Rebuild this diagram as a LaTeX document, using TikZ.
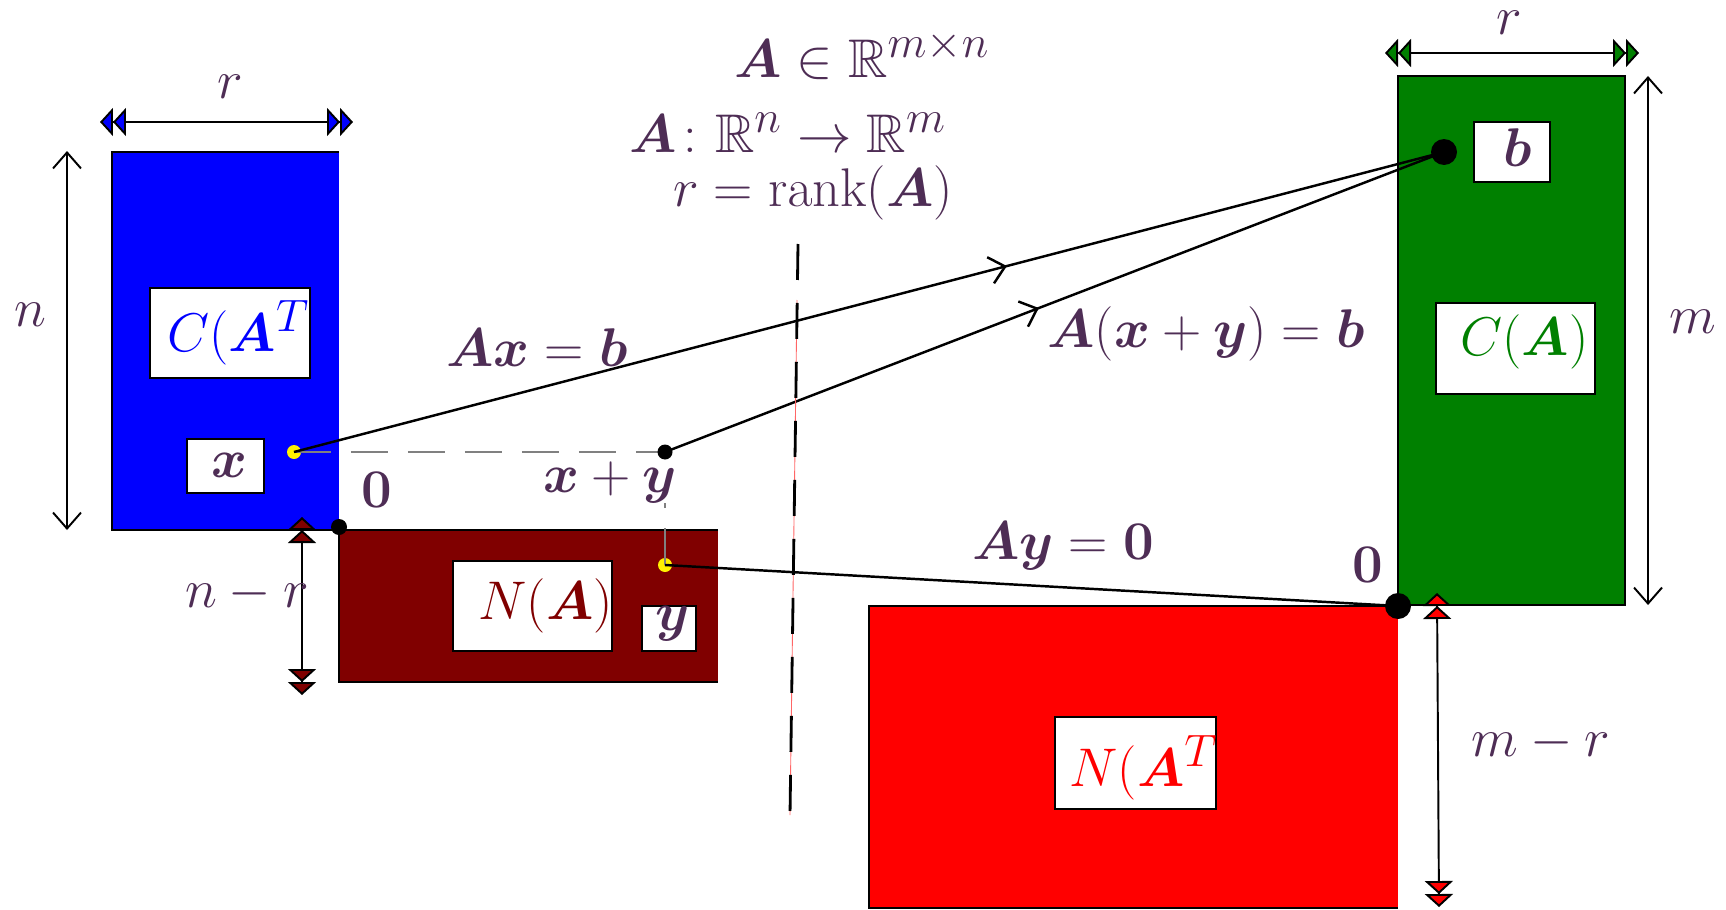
\documentclass[tikz,border=0pt]{standalone}
\usepackage{amsmath,amssymb,bm}
\usetikzlibrary{arrows.meta,decorations.markings}
\definecolor{textc}{RGB}{78,45,85}
\definecolor{maroonc}{RGB}{128,0,0}
\definecolor{greenc}{RGB}{0,128,0}
\definecolor{greyc}{RGB}{128,128,128}
\tikzset{
  lbl/.style={font=\Huge, scale=1.246, text=textc, inner sep=0pt},
  inbox/.style={draw=black, fill=white, line width=1.4pt, inner sep=0pt},
  border/.style={line width=1.4pt, line join=miter},
  conn/.style={line width=1.4pt},
  dimv/.style={line width=1.1pt, {Straight Barb[length=0.32cm,width=0.56cm]}-{Straight Barb[length=0.32cm,width=0.56cm]}},
  dimd/.style={line width=1.1pt, {Triangle[length=0.26cm,width=0.56cm,fill=#1] Triangle[length=0.26cm,width=0.56cm,fill=#1]}-{Triangle[length=0.26cm,width=0.56cm,fill=#1] Triangle[length=0.26cm,width=0.56cm,fill=#1]}},
  midarrow/.style={postaction={decorate}, decoration={markings, mark=at position #1 with {\arrow{Straight Barb[length=0.3cm,width=0.54cm]}}}},
  ydot/.style={circle, fill=yellow, inner sep=0pt, minimum size=0.28cm},
  bdot/.style={circle, fill=black, inner sep=0pt, minimum size=#1},
  greydash/.style={draw=greyc, line width=1.4pt, dash pattern=on 0.74cm off 0.4cm},
  middash/.style={line width=1.6pt, dash pattern=on 0.72cm off 0.46cm},
}
\begin{document}
\begin{tikzpicture}[x=0.02cm,y=-0.02cm]
\useasboundingbox (0,0) rectangle (1726,909);

% big rectangles
\fill[blue] (112,152) rectangle (339,530);
\draw[border] (339,152) -- (112,152) -- (112,530) -- (339,530);
\fill[maroonc] (339,530) rectangle (718,682);
\draw[border] (718,530) -- (339,530) -- (339,682) -- (718,682);
\fill[red] (869,606) rectangle (1398,908);
\draw[border] (1398,606) -- (869,606) -- (869,908) -- (1398,908);
\draw[border, fill=greenc] (1398,76) rectangle (1625,605);

% inner boxes
\node[inbox, minimum width=3.2cm, minimum height=1.8cm] (bCAT) at (230,333) {};
\node[lbl, anchor=west, text=blue] (tCAT) at (167,333) {$C(\bm{A}^T)$};
\node[inbox, minimum width=1.54cm, minimum height=1.08cm] (bx) at (225.5,466) {};
\node[lbl] (tx) at (229,465) {$\bm{x}$};
\node[inbox, minimum width=3.18cm, minimum height=1.8cm] (bNA) at (532.5,606) {};
\node[lbl, anchor=west, text=maroonc] (tNA) at (478,606) {$N(\bm{A})$};
\node[inbox, minimum width=1.08cm, minimum height=0.9cm] (by) at (669,628.5) {};
\node[lbl] (ty) at (673,624) {$\bm{y}$};
\node[inbox, minimum width=1.52cm, minimum height=1.2cm] (bb) at (1512,152) {};
\node[lbl] (tb) at (1518,148) {$\bm{b}$};
\node[inbox, minimum width=3.18cm, minimum height=1.82cm] (bCA) at (1515.5,348.5) {};
\node[lbl, anchor=west, text=greenc] (tCA) at (1460,342) {$C(\bm{A})$};
\node[inbox, minimum width=3.22cm, minimum height=1.84cm] (bNAT) at (1135.5,763) {};
\node[lbl, anchor=west, text=red] (tNAT) at (1069,768) {$N(\bm{A}^T)$};

% dimension arrows
\coordinate (r1a) at (100,122); \coordinate (r1b) at (353,122);
\draw[dimd=blue] (r1a) -- (r1b);
\node[lbl] (lr1) at (230,87) {$r$};
\coordinate (na) at (67,151); \coordinate (nb) at (67,530);
\draw[dimv] (na) -- (nb);
\node[lbl] (ln) at (30,315) {$n$};
\coordinate (nra) at (302,517); \coordinate (nrb) at (302,695);
\draw[dimd=maroonc] (nra) -- (nrb);
\node[lbl] (lnr) at (247,594) {$n-r$};
\coordinate (r2a) at (1385,53); \coordinate (r2b) at (1639,53);
\draw[dimd=greenc] (r2a) -- (r2b);
\node[lbl] (lr2) at (1509,23) {$r$};
\coordinate (ma) at (1648,76); \coordinate (mb) at (1648,605);
\draw[dimv] (ma) -- (mb);
\node[lbl] (lm) at (1693,322) {$m$};
\coordinate (mra) at (1437,593); \coordinate (mrb) at (1439,907);
\draw[dimd=red] (mra) -- (mrb);
\node[lbl] (lmr) at (1541,743) {$m-r$};

% points
\node[ydot] (xdot) at (294,452) {};
\node[ydot] (ydotn) at (665,565) {};
\coordinate (xy) at (665,452);
\coordinate (b) at (1444,152);
\coordinate (O) at (1398,606);
\coordinate (c0) at (339,527);

% grey dashed guides
\draw[greydash] (xdot.center) -- (xy);
\draw[greydash] (ydotn.center) -- (xy);

% connectors
\draw[conn, midarrow=0.62] (xdot.center) -- (b);
\draw[conn, midarrow=0.48] (xy) -- (b);
\draw[conn] (ydotn.center) -- (O);

% middle dashed line
\coordinate (dtop) at (798,244);
\coordinate (dbot) at (790,815);
\draw[red!60, line width=0.5pt] (797,300) -- (dbot);
\draw[middash] (dtop) -- (dbot);

% black dots
\node[bdot=0.3cm] (xyd) at (xy) {};
\node[bdot=0.52cm] (bd) at (b) {};
\node[bdot=0.52cm] (Od) at (O) {};
\node[bdot=0.32cm] (c0d) at (c0) {};

% labels
\node[lbl] (t1) at (862,55) {$\bm{A}\in\mathbb{R}^{m\times n}$};
\node[lbl] (t2) at (788,133) {$\bm{A}\colon\mathbb{R}^n\to\mathbb{R}^m$};
\node[lbl] (t3) at (813,193) {$r=\operatorname{rank}(\bm{A})$};
\node[lbl] (lAx) at (537,348) {$\bm{A}\bm{x}=\bm{b}$};
\node[lbl] (lAxy) at (1206,334) {$\bm{A}(\bm{x}+\bm{y})=\bm{b}$};
\node[lbl] (lAy) at (1063,546) {$\bm{A}\bm{y}=\bm{0}$};
\node[lbl, fill=white] (lxy) at (610,482) {$\bm{x}+\bm{y}$};
\node[lbl] (l0a) at (377,490) {$\bm{0}$};
\node[lbl] (l0b) at (1368,565) {$\bm{0}$};
\end{tikzpicture}
\end{document}
